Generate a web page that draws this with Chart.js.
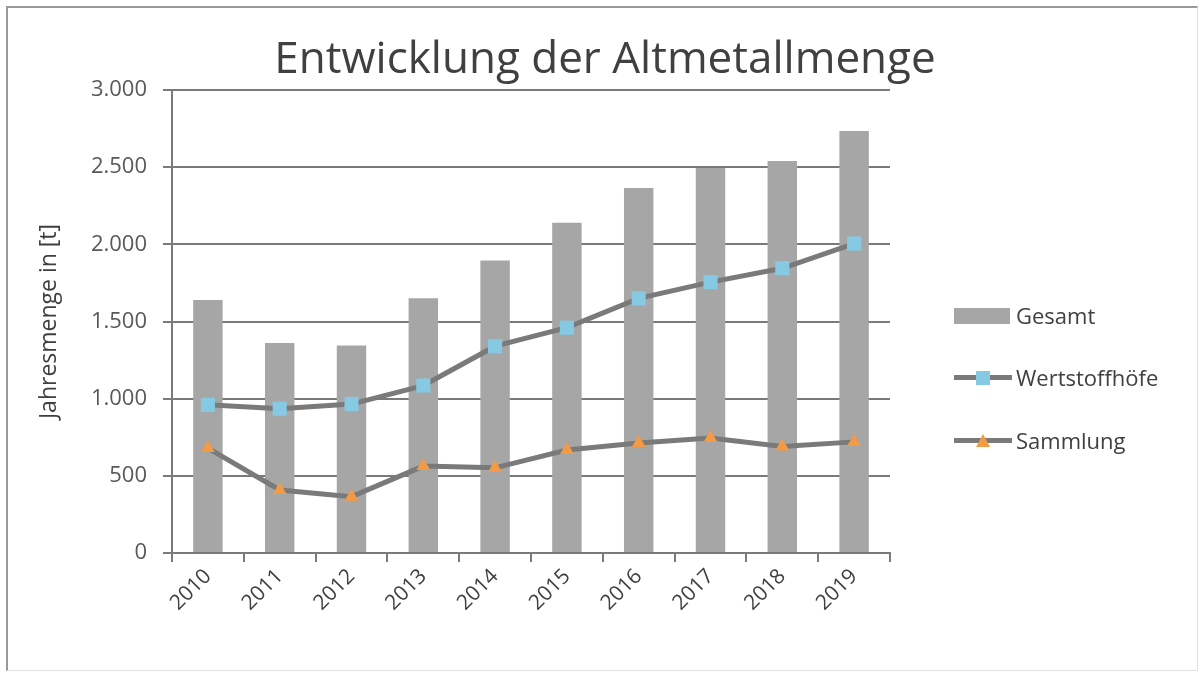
<!DOCTYPE html>
<html>
<head>
<meta charset="utf-8">
<script src="https://cdn.jsdelivr.net/npm/chart.js@4.4.1/dist/chart.umd.min.js"></script>
<style>
  html, body { margin: 0; padding: 0; background: #fff; }
  #wrap { position: relative; width: 1200px; height: 674px; overflow: hidden; }
  #frame { position: absolute; left: 6px; top: 6px; width: 1189px; height: 662px;
           border-left: 2px solid #9a9a9a; border-top: 2px solid #9a9a9a;
           border-right: 1px solid #e2e2e2; border-bottom: 1px solid #e2e2e2; pointer-events: none; }
  canvas { position: absolute; left: 0; top: 0; }
  #title { position: absolute; left: 0; width: 1210px; top: 30px; text-align: center;
           font-family: "Open Sans", sans-serif; font-size: 44px; color: #404040; line-height: 1.2; white-space: nowrap; }
  .leg { position: absolute; font-family: "Open Sans", sans-serif; font-size: 22px; color: #404040; line-height: 1; }
  .leg .sym { position: absolute; left: 0; }
  .leg .txt { position: absolute; left: 62px; top: -12px; white-space: nowrap; }
</style>
</head>
<body>
<div id="wrap">
  <canvas id="c" width="1200" height="674"></canvas>
  <div id="title">Entwicklung der Altmetallmenge</div>
  <div id="frame"></div>
  <div id="legend"></div>
</div>
<script>
const categories = ["2010","2011","2012","2013","2014","2015","2016","2017","2018","2019"];
const gesamt = [1640, 1360, 1345, 1650, 1895, 2140, 2365, 2495, 2540, 2735];
const wertstoffhoefe = [960, 935, 965, 1085, 1340, 1460, 1650, 1755, 1845, 2005];
const sammlung = [680, 408, 365, 563, 552, 667, 712, 745, 690, 720];
const seriesNames = ["Gesamt", "Wertstoffhöfe", "Sammlung"];
const yTicks = [0, 500, 1000, 1500, 2000, 2500, 3000];

const BAR = '#a6a6a6';
const LINE = '#7a7a7a';
const BLUE = '#86c9e3';
const ORANGE = '#f29a45';
const FONT = '"Open Sans", sans-serif';

const chart = new Chart(document.getElementById('c'), {
  data: {
    labels: categories,
    datasets: [
      { type: 'line', label: seriesNames[1], data: wertstoffhoefe, order: 1,
        borderColor: LINE, borderWidth: 5, pointStyle: 'rect', pointRadius: 10,
        pointBackgroundColor: BLUE, pointBorderColor: BLUE, pointBorderWidth: 0, tension: 0 },
      { type: 'line', label: seriesNames[2], data: sammlung, order: 1,
        borderColor: LINE, borderWidth: 5, pointStyle: 'triangle', pointRadius: 8,
        pointBackgroundColor: ORANGE, pointBorderColor: ORANGE, pointBorderWidth: 0, tension: 0 },
      { type: 'bar', label: seriesNames[0], data: gesamt, order: 2,
        backgroundColor: BAR, categoryPercentage: 1.0, barPercentage: 0.41 }
    ]
  },
  options: {
    responsive: false,
    animation: false,
    layout: { padding: { left: 36, right: 310, top: 90, bottom: 0 } },
    plugins: {
      legend: { display: false },
      tooltip: { enabled: false },
      title: { display: false }
    },
    scales: {
      x: {
        offset: true,
        grid: { display: true, drawOnChartArea: false, drawTicks: true, tickLength: 9,
                color: LINE, lineWidth: 2, offset: true },
        border: { display: true, color: LINE, width: 2 },
        ticks: { color: '#404040', font: { family: FONT, size: 21 }, minRotation: 45, maxRotation: 45, padding: 2 },
        afterFit: (s) => { s.height = 121; }
      },
      y: {
        min: 0, max: 3000,
        afterBuildTicks: (s) => { s.ticks = yTicks.map(v => ({ value: v })); },
        grid: { color: LINE, lineWidth: 2, drawTicks: true, tickLength: 9 },
        border: { display: true, color: LINE, width: 2 },
        ticks: { color: '#595959', font: { family: FONT, size: 22 }, padding: 16,
                 callback: (v) => Number(v).toLocaleString('de-DE') },
        title: { display: true, text: 'Jahresmenge in [t]', color: '#404040',
                 font: { family: FONT, size: 23 }, padding: { top: 0, bottom: 0 } },
        afterFit: (s) => { s.width = 136; }
      }
    }
  }
});

// HTML legend
const legend = document.getElementById('legend');
const legItems = [
  { name: seriesNames[0], kind: 'bar', y: 316 },
  { name: seriesNames[1], kind: 'rect', y: 378, color: BLUE },
  { name: seriesNames[2], kind: 'tri', y: 441, color: ORANGE }
];
legItems.forEach(it => {
  const d = document.createElement('div');
  d.className = 'leg';
  d.style.left = '954px';
  d.style.top = it.y + 'px';
  let sym = '';
  if (it.kind === 'bar') {
    sym = `<div class="sym" style="top:-8px;width:56px;height:16px;background:${BAR}"></div>`;
  } else {
    sym = `<div class="sym" style="top:-3px;width:58px;height:5px;background:${LINE}"></div>`;
    if (it.kind === 'rect') {
      sym += `<div class="sym" style="left:22px;top:-7px;width:14px;height:14px;background:${it.color}"></div>`;
    } else {
      sym += `<div class="sym" style="left:22px;top:-7px;width:0;height:0;border-left:7px solid transparent;border-right:7px solid transparent;border-bottom:13px solid ${it.color}"></div>`;
    }
  }
  d.innerHTML = sym + `<span class="txt">${it.name}</span>`;
  legend.appendChild(d);
});
</script>
</body>
</html>
